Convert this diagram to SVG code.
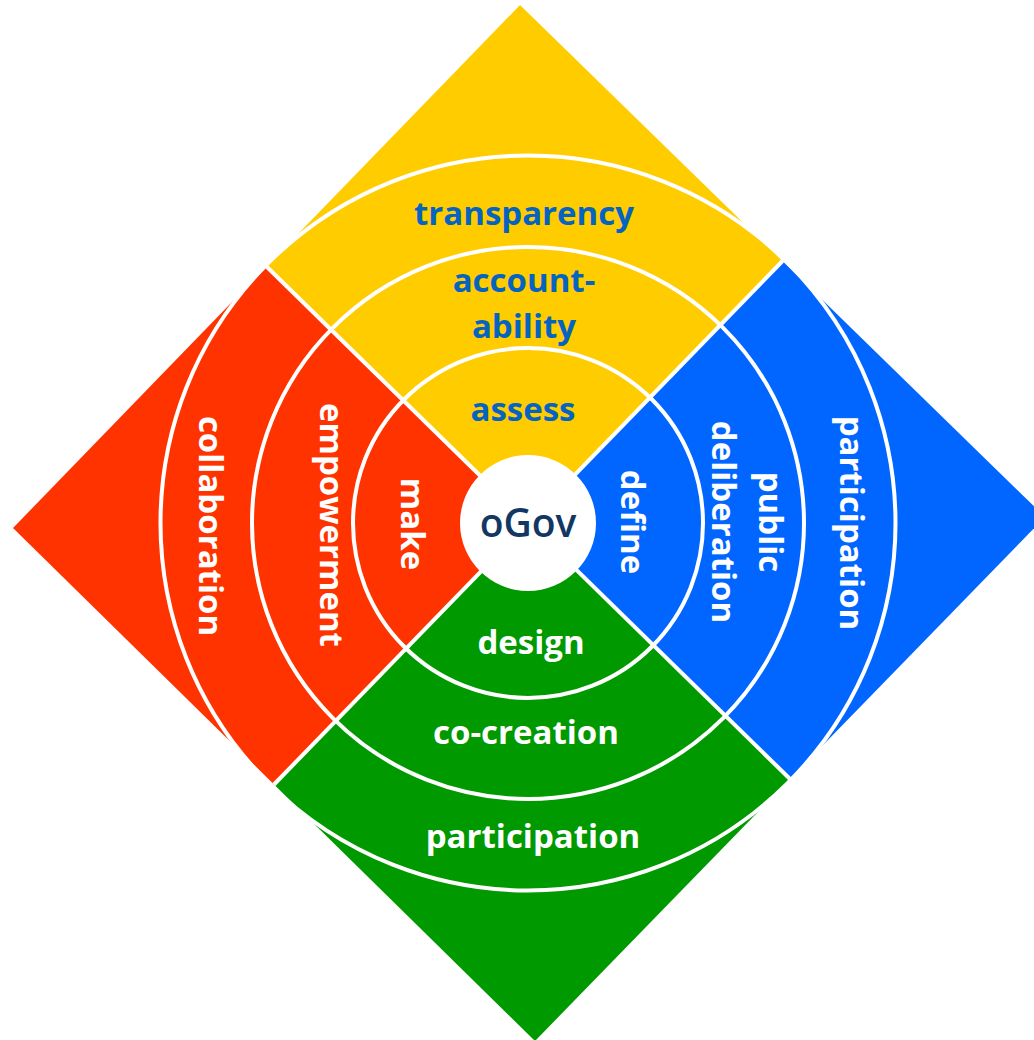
<svg xmlns="http://www.w3.org/2000/svg" width="1034" height="1040" viewBox="0 0 1034 1040">
  <style>
    .lbl { font-family: "Open Sans", "Noto Sans", "Liberation Sans", sans-serif; font-weight: 700; font-size: 33px; text-anchor: middle; }
    .on-yellow { fill: #0563C1; }
    .on-dark { fill: #ffffff; }
    .ring { fill: none; stroke: #ffffff; stroke-width: 4; }
    .divider { stroke: #ffffff; stroke-width: 4; }
  </style>
  <rect width="1034" height="1040" fill="#ffffff"/>

  <!-- four quadrant squares, each with a corner at the hub (528,523) -->
  <g id="quadrant-top">
    <polygon points="528,523 266.5,266.5 520,5 782.5,261" fill="#FFCC00"/>
  </g>
  <g id="quadrant-right">
    <polygon points="528,523 782.5,261 1045,517 790,779" fill="#0066FF"/>
  </g>
  <g id="quadrant-bottom">
    <polygon points="528,523 790,779 535,1041 274,784.5" fill="#009900"/>
  </g>
  <g id="quadrant-left">
    <polygon points="528,523 274,784.5 13,528 266.5,266.5" fill="#FF3300"/>
  </g>

  <!-- concentric rings and quadrant dividers -->
  <g id="connectors">
    <line class="divider" x1="266.5" y1="266.5" x2="790" y2="779"/>
    <line class="divider" x1="782.5" y1="261" x2="274" y2="784.5"/>
    <circle class="ring" cx="528" cy="523" r="175"/>
    <circle class="ring" cx="528" cy="523" r="276"/>
    <circle class="ring" cx="528" cy="523" r="367.5"/>
  </g>

  <!-- hub -->
  <g id="hub">
    <circle cx="528" cy="523" r="68" fill="#ffffff"/>
    <text class="lbl" x="528" y="537" style="font-size:39px;font-weight:600" fill="#123763">oGov</text>
  </g>

  <!-- top quadrant labels -->
  <g id="label-assess"><text class="lbl on-yellow" x="523" y="421">assess</text></g>
  <g id="label-accountability">
    <text class="lbl on-yellow" x="524" y="292">account-</text>
    <text class="lbl on-yellow" x="524" y="338">ability</text>
  </g>
  <g id="label-transparency"><text class="lbl on-yellow" x="524" y="225">transparency</text></g>

  <!-- bottom quadrant labels -->
  <g id="label-design"><text class="lbl on-dark" x="531" y="654">design</text></g>
  <g id="label-cocreation"><text class="lbl on-dark" x="526" y="744">co-creation</text></g>
  <g id="label-participation-bottom"><text class="lbl on-dark" x="533" y="848">participation</text></g>

  <!-- left quadrant labels, reading downward -->
  <g id="label-make"><text class="lbl on-dark" x="401" y="524" transform="rotate(90 401 524)">make</text></g>
  <g id="label-empowerment"><text class="lbl on-dark" x="320" y="525" transform="rotate(90 320 525)">empowerment</text></g>
  <g id="label-collaboration"><text class="lbl on-dark" x="199" y="526" transform="rotate(90 199 526)">collaboration</text></g>

  <!-- right quadrant labels, reading downward -->
  <g id="label-define"><text class="lbl on-dark" x="621" y="522" transform="rotate(90 621 522)">define</text></g>
  <g id="label-public-deliberation">
    <text class="lbl on-dark" x="759" y="522" transform="rotate(90 759 522)">public</text>
    <text class="lbl on-dark" x="712" y="522" transform="rotate(90 712 522)">deliberation</text>
  </g>
  <g id="label-participation-right"><text class="lbl on-dark" x="840" y="523" transform="rotate(90 840 523)">participation</text></g>
</svg>
